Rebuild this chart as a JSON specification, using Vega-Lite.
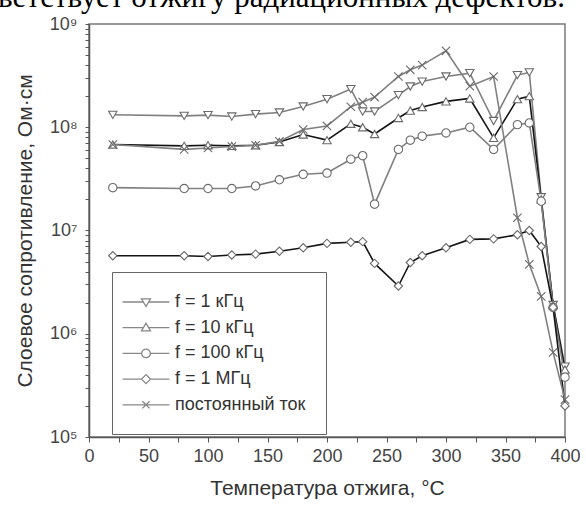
{
  "$schema": "https://vega.github.io/schema/vega-lite/v6.json",
  "autosize": "none",
  "width": 476,
  "height": 413,
  "padding": {"left": 89, "top": 24, "right": 21, "bottom": 68},
  "background": "white",
  "config": {
    "font": "Liberation Sans",
    "view": {"stroke": "#7a7a7a", "strokeWidth": 1.5}
  },
  "title": {
    "text": "ветствует отжигу радиационных дефектов.",
    "font": "Liberation Serif",
    "fontSize": 31,
    "fontWeight": "normal",
    "color": "#000000",
    "anchor": "start",
    "frame": "group",
    "orient": "top",
    "baseline": "alphabetic",
    "offset": 2,
    "dx": -91,
    "dy": 25
  },
  "datasets": {
    "curves": [
      {"series": "f = 1 кГц", "T": 20, "R": 132000000},
      {"series": "f = 1 кГц", "T": 80, "R": 129000000},
      {"series": "f = 1 кГц", "T": 100, "R": 131000000},
      {"series": "f = 1 кГц", "T": 120, "R": 127000000},
      {"series": "f = 1 кГц", "T": 140, "R": 134000000},
      {"series": "f = 1 кГц", "T": 160, "R": 139000000},
      {"series": "f = 1 кГц", "T": 180, "R": 159000000},
      {"series": "f = 1 кГц", "T": 200, "R": 187000000},
      {"series": "f = 1 кГц", "T": 220, "R": 234000000},
      {"series": "f = 1 кГц", "T": 230, "R": 142000000},
      {"series": "f = 1 кГц", "T": 240, "R": 142000000},
      {"series": "f = 1 кГц", "T": 260, "R": 205000000},
      {"series": "f = 1 кГц", "T": 270, "R": 248000000},
      {"series": "f = 1 кГц", "T": 280, "R": 277000000},
      {"series": "f = 1 кГц", "T": 300, "R": 310000000},
      {"series": "f = 1 кГц", "T": 320, "R": 334000000},
      {"series": "f = 1 кГц", "T": 340, "R": 115000000},
      {"series": "f = 1 кГц", "T": 360, "R": 320000000},
      {"series": "f = 1 кГц", "T": 370, "R": 340000000},
      {"series": "f = 1 кГц", "T": 380, "R": 21000000},
      {"series": "f = 1 кГц", "T": 390, "R": 1900000},
      {"series": "f = 1 кГц", "T": 400, "R": 480000},

      {"series": "f = 10 кГц", "T": 20, "R": 68000000},
      {"series": "f = 10 кГц", "T": 80, "R": 66000000},
      {"series": "f = 10 кГц", "T": 100, "R": 67000000},
      {"series": "f = 10 кГц", "T": 120, "R": 66000000},
      {"series": "f = 10 кГц", "T": 140, "R": 67000000},
      {"series": "f = 10 кГц", "T": 160, "R": 72000000},
      {"series": "f = 10 кГц", "T": 180, "R": 85000000},
      {"series": "f = 10 кГц", "T": 200, "R": 75000000},
      {"series": "f = 10 кГц", "T": 220, "R": 108000000},
      {"series": "f = 10 кГц", "T": 230, "R": 100000000},
      {"series": "f = 10 кГц", "T": 240, "R": 86000000},
      {"series": "f = 10 кГц", "T": 260, "R": 123000000},
      {"series": "f = 10 кГц", "T": 270, "R": 145000000},
      {"series": "f = 10 кГц", "T": 280, "R": 157000000},
      {"series": "f = 10 кГц", "T": 300, "R": 178000000},
      {"series": "f = 10 кГц", "T": 320, "R": 190000000},
      {"series": "f = 10 кГц", "T": 340, "R": 79000000},
      {"series": "f = 10 кГц", "T": 360, "R": 187000000},
      {"series": "f = 10 кГц", "T": 370, "R": 200000000},
      {"series": "f = 10 кГц", "T": 380, "R": 20000000},
      {"series": "f = 10 кГц", "T": 390, "R": 1900000},
      {"series": "f = 10 кГц", "T": 400, "R": 450000},

      {"series": "f = 100 кГц", "T": 20, "R": 26000000},
      {"series": "f = 100 кГц", "T": 80, "R": 25500000},
      {"series": "f = 100 кГц", "T": 100, "R": 25500000},
      {"series": "f = 100 кГц", "T": 120, "R": 25500000},
      {"series": "f = 100 кГц", "T": 140, "R": 27000000},
      {"series": "f = 100 кГц", "T": 160, "R": 31000000},
      {"series": "f = 100 кГц", "T": 180, "R": 35000000},
      {"series": "f = 100 кГц", "T": 200, "R": 36000000},
      {"series": "f = 100 кГц", "T": 220, "R": 49000000},
      {"series": "f = 100 кГц", "T": 230, "R": 53000000},
      {"series": "f = 100 кГц", "T": 240, "R": 18000000},
      {"series": "f = 100 кГц", "T": 260, "R": 61000000},
      {"series": "f = 100 кГц", "T": 270, "R": 75000000},
      {"series": "f = 100 кГц", "T": 280, "R": 82000000},
      {"series": "f = 100 кГц", "T": 300, "R": 88000000},
      {"series": "f = 100 кГц", "T": 320, "R": 100000000},
      {"series": "f = 100 кГц", "T": 340, "R": 61000000},
      {"series": "f = 100 кГц", "T": 360, "R": 106000000},
      {"series": "f = 100 кГц", "T": 370, "R": 110000000},
      {"series": "f = 100 кГц", "T": 380, "R": 19200000},
      {"series": "f = 100 кГц", "T": 390, "R": 1800000},
      {"series": "f = 100 кГц", "T": 400, "R": 380000},

      {"series": "f = 1 МГц", "T": 20, "R": 5700000},
      {"series": "f = 1 МГц", "T": 80, "R": 5700000},
      {"series": "f = 1 МГц", "T": 100, "R": 5600000},
      {"series": "f = 1 МГц", "T": 120, "R": 5800000},
      {"series": "f = 1 МГц", "T": 140, "R": 5900000},
      {"series": "f = 1 МГц", "T": 160, "R": 6300000},
      {"series": "f = 1 МГц", "T": 180, "R": 6800000},
      {"series": "f = 1 МГц", "T": 200, "R": 7500000},
      {"series": "f = 1 МГц", "T": 220, "R": 7700000},
      {"series": "f = 1 МГц", "T": 230, "R": 7800000},
      {"series": "f = 1 МГц", "T": 240, "R": 4800000},
      {"series": "f = 1 МГц", "T": 260, "R": 2900000},
      {"series": "f = 1 МГц", "T": 270, "R": 4900000},
      {"series": "f = 1 МГц", "T": 280, "R": 5700000},
      {"series": "f = 1 МГц", "T": 300, "R": 6800000},
      {"series": "f = 1 МГц", "T": 320, "R": 8200000},
      {"series": "f = 1 МГц", "T": 340, "R": 8300000},
      {"series": "f = 1 МГц", "T": 360, "R": 9100000},
      {"series": "f = 1 МГц", "T": 370, "R": 10000000},
      {"series": "f = 1 МГц", "T": 380, "R": 7000000},
      {"series": "f = 1 МГц", "T": 390, "R": 1800000},
      {"series": "f = 1 МГц", "T": 400, "R": 200000},

      {"series": "постоянный ток", "T": 20, "R": 68000000},
      {"series": "постоянный ток", "T": 80, "R": 61000000},
      {"series": "постоянный ток", "T": 100, "R": 63000000},
      {"series": "постоянный ток", "T": 120, "R": 65000000},
      {"series": "постоянный ток", "T": 140, "R": 67000000},
      {"series": "постоянный ток", "T": 160, "R": 73000000},
      {"series": "постоянный ток", "T": 180, "R": 95000000},
      {"series": "постоянный ток", "T": 200, "R": 103000000},
      {"series": "постоянный ток", "T": 220, "R": 158000000},
      {"series": "постоянный ток", "T": 230, "R": 175000000},
      {"series": "постоянный ток", "T": 240, "R": 196000000},
      {"series": "постоянный ток", "T": 260, "R": 310000000},
      {"series": "постоянный ток", "T": 270, "R": 360000000},
      {"series": "постоянный ток", "T": 280, "R": 400000000},
      {"series": "постоянный ток", "T": 300, "R": 550000000},
      {"series": "постоянный ток", "T": 320, "R": 250000000},
      {"series": "постоянный ток", "T": 340, "R": 310000000},
      {"series": "постоянный ток", "T": 360, "R": 13300000},
      {"series": "постоянный ток", "T": 370, "R": 4700000},
      {"series": "постоянный ток", "T": 380, "R": 2300000},
      {"series": "постоянный ток", "T": 390, "R": 660000},
      {"series": "постоянный ток", "T": 400, "R": 230000}
    ]
  },
  "data": {"name": "curves"},
  "encoding": {
    "x": {
      "field": "T",
      "type": "quantitative",
      "scale": {"domain": [0, 400], "nice": false, "zero": false},
      "axis": {
        "values": [0, 25, 50, 75, 100, 125, 150, 175, 200, 225, 250, 275, 300, 325, 350, 375, 400],
        "labelExpr": "datum.value % 50 == 0 ? datum.label : ''",
        "labelFlush": false,
        "labelOverlap": false,
        "grid": false,
        "tickSize": 5,
        "tickColor": "#555555",
        "domainColor": "#555555",
        "domainWidth": 1.5,
        "labelFontSize": 18,
        "labelColor": "#444444",
        "labelPadding": 5,
        "title": "Температура отжига, °C",
        "titleFontSize": 21,
        "titleFontWeight": "normal",
        "titleColor": "#333333",
        "titlePadding": 12
      }
    },
    "y": {
      "field": "R",
      "type": "quantitative",
      "scale": {"type": "log", "domain": [100000, 1000000000], "nice": false},
      "axis": {
        "values": [100000, 200000, 300000, 400000, 500000, 600000, 700000, 800000, 900000,
                   1000000, 2000000, 3000000, 4000000, 5000000, 6000000, 7000000, 8000000, 9000000,
                   10000000, 20000000, 30000000, 40000000, 50000000, 60000000, 70000000, 80000000, 90000000,
                   100000000, 200000000, 300000000, 400000000, 500000000, 600000000, 700000000, 800000000, 900000000,
                   1000000000],
        "labelExpr": "datum.value == 100000 ? '10⁵' : datum.value == 1000000 ? '10⁶' : datum.value == 10000000 ? '10⁷' : datum.value == 100000000 ? '10⁸' : datum.value == 1000000000 ? '10⁹' : ''",
        "labelFlush": false,
        "labelOverlap": false,
        "grid": false,
        "tickSize": 4,
        "tickColor": "#555555",
        "domainColor": "#555555",
        "domainWidth": 1.5,
        "labelFontSize": 18,
        "labelColor": "#444444",
        "labelPadding": 8,
        "title": "Слоевое сопротивление, Ом·см",
        "titleFontSize": 21,
        "titleFontWeight": "normal",
        "titleColor": "#333333",
        "titlePadding": 14
      }
    }
  },
  "layer": [
    {
      "mark": {"type": "line", "strokeWidth": 1.6},
      "encoding": {
        "color": {
          "field": "series",
          "type": "nominal",
          "scale": {
            "domain": ["f = 1 кГц", "f = 10 кГц", "f = 100 кГц", "f = 1 МГц", "постоянный ток"],
            "range": ["#808080", "#141414", "#808080", "#141414", "#808080"]
          },
          "legend": null
        },
        "detail": {"field": "series"}
      }
    },
    {
      "mark": {"type": "point", "filled": true, "fill": "white", "stroke": "#6a6a6a", "strokeWidth": 1.1, "size": 70, "opacity": 1},
      "encoding": {
        "shape": {
          "field": "series",
          "type": "nominal",
          "scale": {
            "domain": ["f = 1 кГц", "f = 10 кГц", "f = 100 кГц", "f = 1 МГц", "постоянный ток"],
            "range": ["triangle-down", "triangle-up", "circle", "diamond", "M-1,-1L1,1M-1,1L1,-1"]
          },
          "legend": null
        }
      }
    },
    {
      "transform": [{"filter": "false"}],
      "mark": {"type": "point", "filled": false, "strokeWidth": 1.3},
      "encoding": {
        "shape": {
          "field": "series",
          "type": "nominal",
          "scale": {
            "domain": ["f = 1 кГц", "f = 10 кГц", "f = 100 кГц", "f = 1 МГц", "постоянный ток"],
            "range": [
              "M-2.6,0H-0.3M0.3,0H2.6M-0.5,-0.35L0.5,-0.35L0,0.5Z",
              "M-2.6,0H-0.3M0.3,0H2.6M-0.5,0.35L0.5,0.35L0,-0.5Z",
              "M-2.6,0H-0.48M0.48,0H2.6M-0.48,0A0.48,0.48,0,1,0,0.48,0A0.48,0.48,0,1,0,-0.48,0Z",
              "M-2.6,0H-0.5M0.5,0H2.6M-0.5,0L0,-0.5L0.5,0L0,0.5Z",
              "M-2.6,0H2.6M-0.4,-0.4L0.4,0.4M-0.4,0.4L0.4,-0.4"
            ]
          },
          "legend": {
            "title": null,
            "orient": "none",
            "legendX": 23,
            "legendY": 248,
            "direction": "vertical",
            "strokeColor": "#666666",
            "padding": 20,
            "symbolSize": 324,
            "symbolOffset": 4,
            "labelOffset": 19,
            "rowPadding": 6.7,
            "labelFontSize": 18,
            "labelColor": "#333333",
            "labelLimit": 300,
            "symbolStrokeWidth": 1.3,
            "symbolFillColor": "white",
            "symbolOpacity": 1
          }
        },
        "stroke": {
          "field": "series",
          "type": "nominal",
          "scale": {
            "domain": ["f = 1 кГц", "f = 10 кГц", "f = 100 кГц", "f = 1 МГц", "постоянный ток"],
            "range": ["#808080", "#141414", "#808080", "#141414", "#808080"]
          },
          "legend": {
            "title": null,
            "orient": "none",
            "legendX": 23,
            "legendY": 248,
            "direction": "vertical",
            "strokeColor": "#666666",
            "padding": 20,
            "symbolSize": 324,
            "symbolOffset": 4,
            "labelOffset": 19,
            "rowPadding": 6.7,
            "labelFontSize": 18,
            "labelColor": "#333333",
            "labelLimit": 300,
            "symbolStrokeWidth": 1.3,
            "symbolFillColor": "white",
            "symbolOpacity": 1
          }
        }
      }
    }
  ],
  "resolve": {"scale": {"shape": "independent"}}
}
